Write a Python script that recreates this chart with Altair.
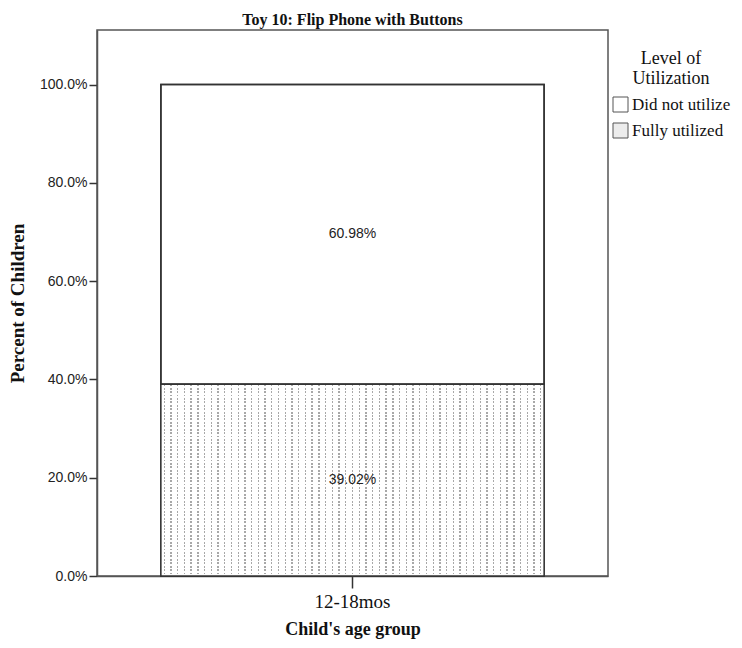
import altair as alt
import pandas as pd

# ---- data ----
age_groups = ["12-18mos"]
levels = ["Did not utilize", "Fully utilized"]
percents = [60.98, 39.02]
y_ticks = [0, 20, 40, 60, 80, 100]

# stacking: Fully utilized at bottom, Did not utilize on top
rows = []
base = 0.0
for lev, p in zip(reversed(levels), reversed(percents)):
    rows.append({"age": age_groups[0], "level": lev, "pct": p,
                 "y0": base, "y1": base + p, "mid": base + p / 2,
                 "label": f"{p:.2f}%"})
    base += p
df = pd.DataFrame(rows)

SERIF = "Liberation Serif"
SANS = "Liberation Sans"

# ---- pattern styling (vertical dotted lines) via gradients ----
DOT = "#a8a8a8"
n_v = 57
v_stops = [alt.GradientStop(offset=0, color="white")]
for k in range(n_v):
    s = (k + 0.4) / n_v
    e = (k + 0.6) / n_v
    v_stops += [alt.GradientStop(offset=s, color="white"),
                alt.GradientStop(offset=s, color=DOT),
                alt.GradientStop(offset=e, color=DOT),
                alt.GradientStop(offset=e, color="white")]
v_stops.append(alt.GradientStop(offset=1, color="white"))
stripe_grad = alt.Gradient(gradient="linear", stops=v_stops, x1=0, x2=1, y1=0, y2=0)

n_h = 56
clear = "rgba(255,255,255,0)"
h_stops = [alt.GradientStop(offset=0, color=clear)]
for k in range(n_h):
    s = (k + 0.55) / n_h
    e = (k + 1.0) / n_h
    h_stops += [alt.GradientStop(offset=s, color=clear),
                alt.GradientStop(offset=s, color="white"),
                alt.GradientStop(offset=e, color="white"),
                alt.GradientStop(offset=e, color=clear)]
mask_grad = alt.Gradient(gradient="linear", stops=h_stops, x1=0, x2=0, y1=0, y2=1)

x_enc = alt.X("age:N", title="Child's age group",
              scale=alt.Scale(paddingInner=0, paddingOuter=1 / 6),
              axis=alt.Axis(labelAngle=0, labelFont=SERIF, labelFontSize=19,
                            labelColor="#111", tickSize=12, labelPadding=4,
                            titleFont=SERIF, titleFontSize=18, titleFontWeight="bold",
                            titlePadding=9, titleColor="#111"))
y_enc = alt.Y("y1:Q", title="Percent of Children",
              scale=alt.Scale(domain=[0, 111.1], nice=False, zero=True),
              axis=alt.Axis(values=y_ticks, grid=False,
                            labelExpr="format(datum.value, '.1f') + '%'",
                            labelFont=SANS, labelFontSize=14, labelColor="#222",
                            tickSize=8, labelPadding=2,
                            titleFont=SERIF, titleFontSize=19, titleFontWeight="bold",
                            titlePadding=12, titleColor="#111"))

base_chart = alt.Chart(df)

bars = base_chart.mark_bar(stroke="#333", strokeWidth=1.5).encode(
    x=x_enc, y=y_enc, y2="y0:Q",
    fill=alt.Fill("level:N",
                  scale=alt.Scale(domain=levels, range=["white", "#ececec"]),
                  legend=alt.Legend(title=["Level of", "Utilization"],
                                    orient="none", legendX=515, legendY=20,
                                    titleFont=SERIF, titleFontSize=18,
                                    titleFontWeight="normal", titleColor="#111",
                                    titleAnchor="middle", titleAlign="center",
                                    titleLineHeight=20, titlePadding=8,
                                    labelFont=SERIF, labelFontSize=17,
                                    labelColor="#111", labelLimit=300,
                                    labelOffset=3,
                                    symbolType="square", symbolSize=225,
                                    symbolStrokeColor="#555", symbolStrokeWidth=1,
                                    rowPadding=7)),
)

pattern = base_chart.transform_filter(alt.datum.level == levels[1]).mark_bar(
    fill=stripe_grad, strokeWidth=0).encode(x=x_enc, y=y_enc, y2="y0:Q")
mask = base_chart.transform_filter(alt.datum.level == levels[1]).mark_bar(
    fill=mask_grad, strokeWidth=0).encode(x=x_enc, y=y_enc, y2="y0:Q")
outline = base_chart.mark_bar(fillOpacity=0, stroke="#333", strokeWidth=1.5).encode(
    x=x_enc, y=y_enc, y2="y0:Q")

labels = base_chart.mark_text(font=SANS, fontSize=14, color="#222").encode(
    x=alt.X("age:N"), y=alt.Y("mid:Q"), text="label:N")

chart = alt.layer(bars, pattern, mask, outline, labels).properties(
    width=511, height=546,
    title=alt.TitleParams("Toy 10: Flip Phone with Buttons", font=SERIF,
                          fontSize=16, fontWeight="bold", color="#111",
                          anchor="middle", offset=2),
    autosize=alt.AutoSizeParams(type="none"),
    padding={"left": 89, "top": 22, "right": 126, "bottom": 64},
).configure_view(stroke="#555", strokeWidth=1.5).configure_axis(
    domainColor="#555", domainWidth=1.5, tickColor="#333", tickWidth=1.5)

chart.save("out.html", embed_options={"renderer": "svg", "actions": False})
